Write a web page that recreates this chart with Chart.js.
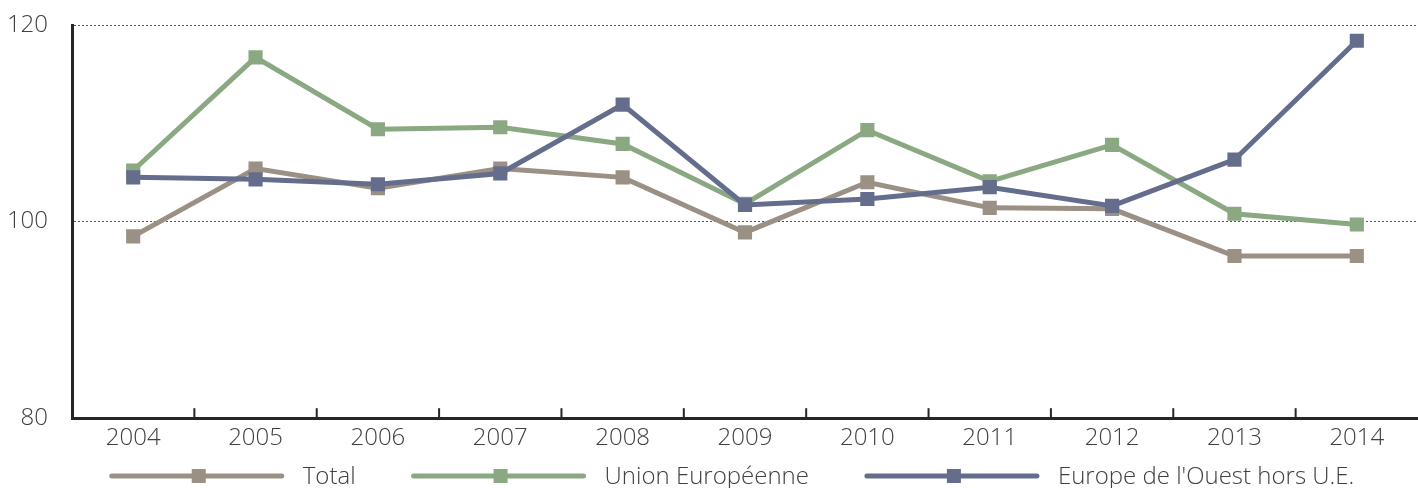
<!DOCTYPE html>
<html>
<head>
<meta charset="utf-8">
<script src="https://cdn.jsdelivr.net/npm/chart.js@4.4.1/dist/chart.umd.min.js"></script>
<style>
  html, body { margin: 0; padding: 0; background: #fff; }
  #wrap { width: 1418px; height: 488px; }
</style>
</head>
<body>
<div id="wrap"><canvas id="chart"></canvas></div>
<script>
const years = ['2004', '2005', '2006', '2007', '2008', '2009', '2010', '2011', '2012', '2013', '2014'];
const total = [98.5, 105.4, 103.4, 105.4, 104.5, 98.9, 104.0, 101.4, 101.3, 96.5, 96.5];
const unionEuropeenne = [105.2, 116.7, 109.4, 109.6, 107.9, 101.8, 109.3, 104.1, 107.8, 100.8, 99.7];
const horsUE = [104.5, 104.3, 103.8, 104.9, 111.9, 101.7, 102.3, 103.5, 101.6, 106.3, 118.4];
const yTicks = [80, 100, 120];

const FONT = "'Open Sans', 'DejaVu Sans', sans-serif";
const TEXT = '#404040';
const FS = 24;

// inside tick marks on the x axis + a hand-drawn legend (line with square marker)
const decorations = {
    id: 'decorations',
    afterDraw(chart) {
        const ctx = chart.ctx;
        const x = chart.scales.x;
        const area = chart.chartArea;
        ctx.save();
        ctx.strokeStyle = '#262626';
        ctx.lineWidth = 2;
        for (let i = 1; i < years.length; i++) {
            const px = (x.getPixelForValue(i - 1) + x.getPixelForValue(i)) / 2;
            ctx.beginPath();
            ctx.moveTo(px, area.bottom);
            ctx.lineTo(px, area.bottom - 10);
            ctx.stroke();
        }

        ctx.font = `300 ${FS}px ${FONT}`;
        ctx.textBaseline = 'middle';
        ctx.textAlign = 'left';
        const lineLen = 170, gapText = 21, gapItem = 58;
        const ds = chart.data.datasets;
        const widths = ds.map(d => lineLen + gapText + ctx.measureText(d.label).width);
        const totalW = widths.reduce((a, b) => a + b, 0) + gapItem * (ds.length - 1);
        let lx = (area.left + area.right) / 2 - totalW / 2 - 12;
        const cy = chart.height - 12;
        ds.forEach((d, i) => {
            ctx.strokeStyle = d.borderColor;
            ctx.lineWidth = 5;
            ctx.lineCap = 'round';
            ctx.beginPath();
            ctx.moveTo(lx, cy);
            ctx.lineTo(lx + lineLen, cy);
            ctx.stroke();
            ctx.fillStyle = d.borderColor;
            ctx.fillRect(lx + lineLen / 2 + 2 - 7, cy - 7, 14, 14);
            ctx.fillStyle = TEXT;
            ctx.fillText(d.label, lx + lineLen + gapText, cy + 1);
            lx += widths[i] + gapItem;
        });
        ctx.restore();
    }
};

const mk = (label, data, color, order) => ({
    label, data, order,
    borderColor: color,
    backgroundColor: color,
    borderWidth: 5,
    pointStyle: 'rect',
    pointRadius: 10,
    pointBorderWidth: 0,
    pointBackgroundColor: color,
    tension: 0
});

new Chart(document.getElementById('chart'), {
    type: 'line',
    data: {
        labels: years,
        datasets: [
            mk('Total', total, '#9a9084', 3),
            mk('Union Européenne', unionEuropeenne, '#8aa882', 2),
            mk("Europe de l'Ouest hors U.E.", horsUE, '#646e8c', 1)
        ]
    },
    options: {
        responsive: true,
        maintainAspectRatio: false,
        animation: false,
        layout: { autoPadding: false, padding: { left: 6, right: 0, top: 25, bottom: 29 } },
        scales: {
            x: {
                offset: true,
                afterFit: axis => { axis.paddingLeft = 0; axis.paddingRight = 0; },
                grid: { display: true, offset: true, drawOnChartArea: false, drawTicks: false, color: 'transparent' },
                border: { display: true, color: '#262626', width: 3 },
                ticks: { color: TEXT, font: { family: FONT, size: FS, weight: 300 }, padding: 6 }
            },
            y: {
                min: 80, max: 120,
                afterBuildTicks: axis => { axis.ticks = yTicks.map(v => ({ value: v })); },
                afterFit: axis => { axis.width = 66; axis.paddingTop = 0; axis.paddingBottom = 0; },
                grid: {
                    drawTicks: false,
                    color: ctx => ctx.tick && ctx.tick.value === 80 ? 'transparent' : '#555',
                    lineWidth: 1
                },
                border: { display: true, color: '#262626', width: 3, dash: [2, 2] },
                ticks: { color: TEXT, font: { family: FONT, size: FS, weight: 300 }, padding: 24 }
            }
        },
        plugins: {
            tooltip: { enabled: false },
            legend: { display: false }
        }
    },
    plugins: [decorations]
});
</script>
</body>
</html>
